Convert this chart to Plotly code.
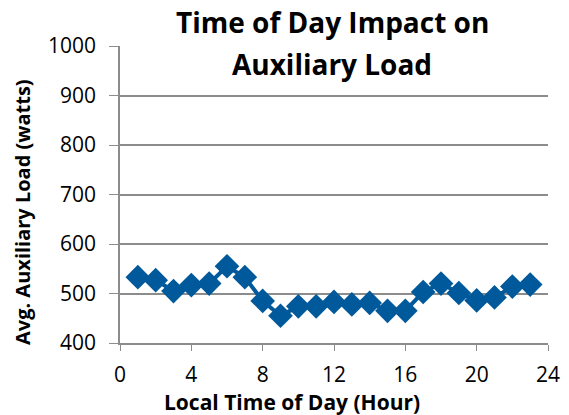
import plotly.graph_objects as go

hours = list(range(1, 24))
load_watts = [533, 527, 505, 517, 520, 555, 533, 485, 455, 474, 474, 483, 478, 481, 465, 465, 503, 520, 501, 486, 492, 514, 518]

x_ticks = [0, 4, 8, 12, 16, 20, 24]
y_ticks = [400, 500, 600, 700, 800, 900, 1000]

font_family = "Open Sans, Liberation Sans, sans-serif"
grid_color = "#8c8c8c"
blue = "#00599A"

W, H = 569, 415
L, R, T, B = 120, 21, 46, 72
plot_h = H - T - B
plot_w = W - L - R

def py(pix):
    return (H - B - pix) / plot_h

def px(pix):
    return (pix - L) / plot_w

fig = go.Figure()
fig.add_trace(go.Scatter(
    x=hours, y=load_watts, mode="lines+markers",
    line=dict(color=blue, width=4),
    marker=dict(symbol="diamond", size=19, color=blue),
    showlegend=False,
))

fig.update_layout(
    width=W, height=H,
    margin=dict(l=L, r=R, t=T, b=B),
    paper_bgcolor="white", plot_bgcolor="white",
    font=dict(family=font_family, color="black"),
    xaxis=dict(
        range=[0, 24], tickvals=x_ticks, ticks="outside", ticklen=6,
        tickcolor=grid_color, showgrid=False, showline=True, linecolor=grid_color,
        linewidth=1.5, zeroline=False, tickfont=dict(size=21),
        ticklabelstandoff=6, automargin=False,
    ),
    yaxis=dict(
        range=[400, 1000], tickvals=y_ticks, ticks="outside", ticklen=9,
        tickcolor=grid_color, showgrid=True, gridcolor=grid_color, gridwidth=1.5,
        showline=True, linecolor=grid_color, linewidth=1.5, zeroline=False,
        tickfont=dict(size=21), automargin=False, ticklabelstandoff=9,
    ),
    annotations=[
        dict(
            text="<b>Auxiliary Load</b>",
            x=px(332), xref="paper", y=py(64), yref="paper", yanchor="middle",
            xanchor="center", showarrow=False, align="center",
            font=dict(size=28, family=font_family), bgcolor="white",
            width=332, height=46,
        ),
        dict(
            text="<b>Time of Day Impact on</b>",
            x=px(332), xref="paper", y=py(22), yref="paper", yanchor="middle",
            xanchor="center", showarrow=False, align="center",
            font=dict(size=28, family=font_family),
        ),
        dict(
            text="<b>Local Time of Day (Hour)</b>",
            x=px(292), xref="paper", y=py(402), yref="paper", yanchor="middle",
            xanchor="center", showarrow=False,
            font=dict(size=21, family=font_family),
        ),
        dict(
            text="<b>Avg. Auxiliary Load (watts)</b>",
            x=px(22), xref="paper", y=py(212), yref="paper", yanchor="middle",
            xanchor="center", showarrow=False, textangle=-90,
            font=dict(size=20, family=font_family),
        ),
    ],
)

fig.write_html("out.html", config={"displayModeBar": False},
               post_script="document.body.style.margin='0';document.body.style.overflow='hidden';")
